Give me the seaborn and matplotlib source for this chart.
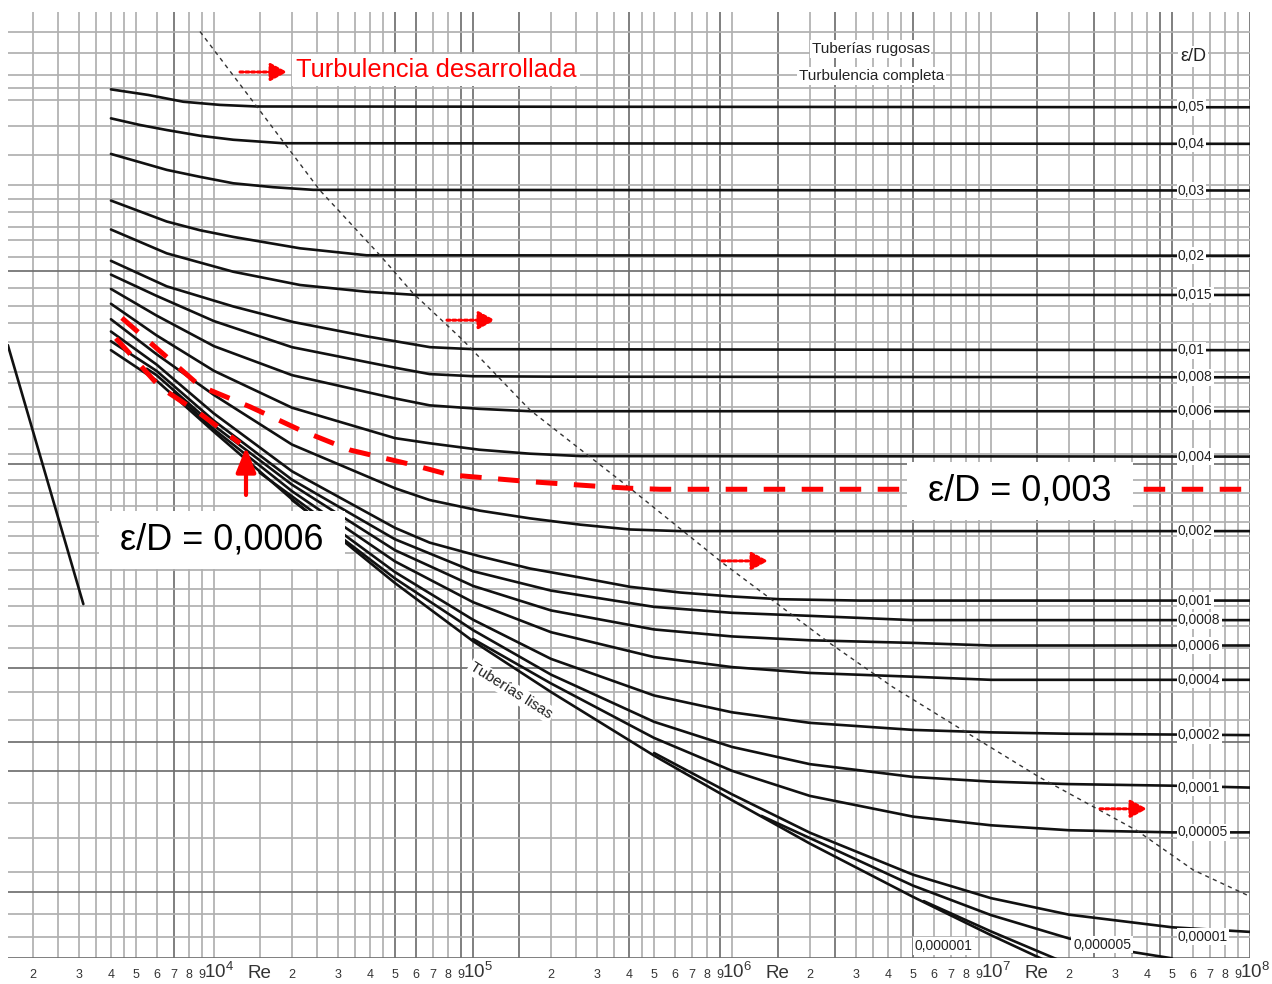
import matplotlib
matplotlib.use("Agg")
import matplotlib.pyplot as plt
from matplotlib.ticker import NullLocator
from matplotlib.transforms import ScaledTranslation
import pandas as pd
import seaborn as sns

# ---------------------------------------------------------------------------
# Moody chart: Darcy friction factor f against Reynolds number Re
# ---------------------------------------------------------------------------
re_r0_05 = [4000, 5580, 7610, 10550, 14620, 1e8]
f_r0_05 = [0.0750, 0.0739, 0.0726, 0.0720, 0.0717, 0.07155]

re_r0_04 = [4000, 5180, 6570, 8830, 11870, 18520, 1e8]
f_r0_04 = [0.0695, 0.0683, 0.0674, 0.0664, 0.0657, 0.0651, 0.0650]

re_r0_03 = [4000, 6570, 8830, 11870, 16940, 24170, 1e8]
f_r0_03 = [0.0633, 0.0607, 0.0596, 0.0586, 0.0580, 0.0576, 0.0575]

re_r0_02 = [4000, 6570, 8830, 11870, 21480, 38860, 1e8]
f_r0_02 = [0.0560, 0.0530, 0.0518, 0.0509, 0.0494, 0.0485, 0.04845]

re_r0_015 = [4000, 6570, 11870, 21480, 38860, 60620, 1e8]
f_r0_015 = [0.0519, 0.04875, 0.04645, 0.04486, 0.04407, 0.0437, 0.0437]

re_r0_01 = [4000, 6570, 11870, 20240, 38860, 68230, 1e5, 1e8]
f_r0_01 = [0.0478, 0.0447, 0.0424, 0.0407, 0.0392, 0.0381, 0.0379, 0.0378]

re_r0_008 = [4000, 6000, 1e4, 2e4, 5e4, 6.8e4, 1e5, 2e5, 1e8]
f_r0_008 = [0.0461, 0.0436, 0.0408, 0.0381, 0.0361, 0.0355, 0.0353, 0.03526, 0.0352]

re_r0_006 = [4000, 6000, 1e4, 2e4, 5e4, 6.8e4, 1.06e5, 1.66e5, 1e8]
f_r0_006 = [0.0444, 0.0414, 0.0382, 0.0354, 0.0333, 0.0327, 0.0324, 0.0322, 0.0322]

re_r0_004 = [4000, 6000, 1e4, 2e4, 5e4, 6.8e4, 1.06e5, 1.66e5, 2.6e5, 1e8]
f_r0_004 = [0.0427, 0.0393, 0.0358, 0.0325, 0.0300, 0.0296, 0.0291, 0.0288, 0.02862, 0.02858]

re_r0_002 = [4000, 6000, 1e4, 2e4, 5e4, 6.8e4, 1.06e5, 1.66e5, 2.6e5, 4.04e5, 6.3e5, 1e8]
f_r0_002 = [0.0410, 0.0374, 0.0336, 0.0295, 0.0263, 0.0255, 0.0248, 0.0243, 0.0239, 0.0236, 0.0235, 0.0235]

re_r0_001 = [4000, 6000, 1e4, 2e4, 5e4, 6.8e4, 1.06e5, 1.66e5, 2.6e5, 4.04e5, 6.3e5, 9.8e5, 1.53e6, 3.12e6, 1e8]
f_r0_001 = [0.0397, 0.0364, 0.0320, 0.0275, 0.0237, 0.0228, 0.0220, 0.0213, 0.0208, 0.0203, 0.0200, 0.0198, 0.01965, 0.01958, 0.01958]

re_r0_0008 = [4000, 6000, 1e4, 2e4, 5e4, 1e5, 2e5, 5e5, 1e6, 2e6, 5e6, 1e8]
f_r0_0008 = [0.0387, 0.0358, 0.0314, 0.0269, 0.0230, 0.02115, 0.0201, 0.01926, 0.01896, 0.01881, 0.0186, 0.0186]

re_r0_0006 = [5500, 6000, 1e4, 2e4, 5e4, 1e5, 2e5, 5e5, 1e6, 2e6, 5e6, 1e7, 1e8]
f_r0_0006 = [0.0360, 0.0354, 0.0310, 0.02655, 0.02235, 0.02035, 0.01908, 0.01815, 0.01782, 0.01764, 0.01752, 0.0174, 0.0174]

re_r0_0004 = [7000, 1e4, 2e4, 5e4, 1e5, 2e5, 5e5, 1e6, 2e6, 5e6, 1e7, 1e8]
f_r0_0004 = [0.0338, 0.0307, 0.02610, 0.02170, 0.01950, 0.01802, 0.01688, 0.01644, 0.01619, 0.01603, 0.0159, 0.0159]

re_r0_0002 = [1.5e4, 2e4, 5e4, 1e5, 2e5, 5e5, 1e6, 2e6, 5e6, 1e7, 2e7, 1e8]
f_r0_0002 = [0.0274, 0.02575, 0.02110, 0.01862, 0.01680, 0.01526, 0.0146, 0.0142, 0.01394, 0.01385, 0.0138, 0.01375]

re_r0_0001 = [2e4, 5e4, 1e5, 2e5, 5e5, 1e6, 2e6, 5e6, 1e7, 2e7, 5e7, 1e8]
f_r0_0001 = [0.0255, 0.02075, 0.01812, 0.01612, 0.01424, 0.01333, 0.01274, 0.01232, 0.01217, 0.01209, 0.01204, 0.01198]

re_r0_00005 = [1e5, 2e5, 5e5, 1e6, 2e6, 5e6, 1e7, 2e7, 5e7, 1e8]
f_r0_00005 = [0.0177, 0.01575, 0.01365, 0.01252, 0.01172, 0.0111, 0.01085, 0.01071, 0.01065, 0.01065]

re_r0_00001 = [5e5, 1e6, 2e6, 5e6, 1e7, 2e7, 5e7, 1e8]
f_r0_00001 = [0.01312, 0.01177, 0.01064, 0.00953, 0.00896, 0.00858, 0.0083, 0.0082]

re_r0_000005 = [1.3e6, 2e6, 5e6, 1e7, 2e7, 3.5e7, 5e7]
f_r0_000005 = [0.01112, 0.01049, 0.00926, 0.00857, 0.00806, 0.00778, 0.00765]

re_r0_000001 = [5.5e6, 1e7, 2e7]
f_r0_000001 = [0.00889, 0.00821, 0.00753]

re_smooth = [4000, 6000, 1e4, 2e4, 5e4, 1e5, 2e5, 5e5, 1e6, 2e6, 5e6, 1e7, 2e7]
f_smooth = [0.0378, 0.0349, 0.0305, 0.02555, 0.0205, 0.0176, 0.0154, 0.01303, 0.01159, 0.01034, 0.00899, 0.00813, 0.00739]

# laminar flow line
re_laminar = [1600, 3130]
f_laminar = [0.0383, 0.0194]

# limit of complete turbulence (rough pipes)
re_limit = [8830, 14620, 25670, 43750, 58660, 91500, 1.66e5, 4.04e5, 9.23e5,
            2.39e6, 4.18e6, 8.52e6, 1.546e7, 3.66e7, 6.03e7, 1e8]
f_limit = [0.0873, 0.0717, 0.0575, 0.0485, 0.0439, 0.0388, 0.0323, 0.0263, 0.0216,
           0.0175, 0.0156, 0.0137, 0.0123, 0.0107, 0.00965, 0.0090]

# highlighted curves (red dashed)
re_hl_003 = [4410, 8830, 13770, 21480, 33500, 58660, 81500, 1.163e5, 1.66e5, 3.18e5, 4.04e5, 5.27e5, 1e8]
f_hl_003 = [0.04114, 0.0344, 0.03258, 0.03065, 0.02908, 0.02796, 0.02724, 0.0270, 0.02676, 0.02641, 0.0263, 0.02623, 0.02623]
re_hl_0006 = [4180, 6190, 8830, 12600]
f_hl_0006 = [0.0390, 0.0343, 0.0320, 0.0296]

# right-hand relative roughness labels and the friction factor of each line
rough_labels = ["0,05", "0,04", "0,03", "0,02", "0,015", "0,01", "0,008", "0,006",
                "0,004", "0,002", "0,001", "0,0008", "0,0006", "0,0004", "0,0002",
                "0,0001", "0,00005", "0,00001"]
rough_label_f = [0.07155, 0.0650, 0.0575, 0.04845, 0.0437, 0.0378, 0.0352, 0.0322,
                 0.02858, 0.0235, 0.01958, 0.0186, 0.0174, 0.0159, 0.01375,
                 0.01198, 0.01065, 0.0081]

# horizontal grid (friction factor values) of the chart paper
hgrid_f = [0.0871, 0.0826, 0.0779, 0.0752, 0.0729, 0.0681, 0.0631, 0.0583, 0.0563,
           0.0544, 0.0523, 0.0505, 0.0483, 0.0465, 0.0445, 0.0424, 0.0406, 0.0386,
           0.0357, 0.0347, 0.0326, 0.0307, 0.0288, 0.0280, 0.0269, 0.0260, 0.0251,
           0.0241, 0.0232, 0.0222, 0.0212, 0.0202, 0.0193, 0.0183, 0.0173, 0.0164,
           0.0154, 0.0143, 0.0135, 0.0125, 0.0115, 0.0105, 0.0096, 0.0091, 0.0086,
           0.0081, 0.00766]
hgrid_dark = [0.0465, 0.0280, 0.0164, 0.0135, 0.0125, 0.0091, 0.00766]

# vertical grid: multipliers within each decade
vgrid_mult = [1, 1.5, 2, 2.5, 3, 3.5, 4, 4.5, 5, 6, 7, 8, 9]
vgrid_dark = [7e3, 5e4, 6e4, 9e4, 1e5, 1.5e5, 4e5, 9e5, 1.5e6, 2.5e6, 5e6,
              1.5e7, 2.5e7, 4.5e7, 5e7, 1e8]

curves = {
    "0.05": (re_r0_05, f_r0_05), "0.04": (re_r0_04, f_r0_04),
    "0.03": (re_r0_03, f_r0_03), "0.02": (re_r0_02, f_r0_02),
    "0.015": (re_r0_015, f_r0_015), "0.01": (re_r0_01, f_r0_01),
    "0.008": (re_r0_008, f_r0_008), "0.006": (re_r0_006, f_r0_006),
    "0.004": (re_r0_004, f_r0_004), "0.002": (re_r0_002, f_r0_002),
    "0.001": (re_r0_001, f_r0_001), "0.0008": (re_r0_0008, f_r0_0008),
    "0.0006": (re_r0_0006, f_r0_0006), "0.0004": (re_r0_0004, f_r0_0004),
    "0.0002": (re_r0_0002, f_r0_0002), "0.0001": (re_r0_0001, f_r0_0001),
    "0.00005": (re_r0_00005, f_r0_00005), "0.00001": (re_r0_00001, f_r0_00001),
    "0.000005": (re_r0_000005, f_r0_000005), "0.000001": (re_r0_000001, f_r0_000001),
    "smooth": (re_smooth, f_smooth), "laminar": (re_laminar, f_laminar),
}
rows = []
for name, (res, fs) in curves.items():
    for r, f in zip(res, fs):
        rows.append({"Re": r, "f": f, "curve": name})
df = pd.DataFrame(rows)

# ---------------------------------------------------------------------------
sns.set_theme(style="white")
plt.rcParams["font.family"] = ["Liberation Sans", "DejaVu Sans"]
plt.rcParams["mathtext.fontset"] = "custom"
plt.rcParams["mathtext.rm"] = "Liberation Sans"
plt.rcParams["mathtext.default"] = "regular"

fig = plt.figure(figsize=(12.72, 9.84), dpi=100)
fig.patch.set_facecolor("white")
ax = fig.add_axes([0.0063, 0.0261, 0.9764, 0.9617])
ax.set_xscale("log")
ax.set_yscale("log")
X_MIN, X_MAX = 1602, 1e8
Y_MIN, Y_MAX = 0.00765, 0.0919
ax.set_xlim(X_MIN, X_MAX)
ax.set_ylim(Y_MIN, Y_MAX)
for s in ax.spines.values():
    s.set_visible(False)

LIGHT, DARK = "#b0b0b0", "#707070"
# chart paper grid
for k in range(3, 8):
    for m in vgrid_mult:
        v = m * 10 ** k
        if X_MIN < v <= X_MAX:
            dark = any(abs(v - d) / d < 1e-6 for d in vgrid_dark)
            ax.axvline(v, color=DARK if dark else LIGHT, lw=1.25, zorder=1)
ax.axvline(X_MAX, color=DARK, lw=1.25, zorder=1)
for h in hgrid_f:
    ax.axhline(h, color=DARK if h in hgrid_dark else LIGHT, lw=1.25, zorder=1)

# friction factor curves
sns.lineplot(data=df, x="Re", y="f", units="curve", estimator=None, sort=False,
             color="#111111", lw=1.9, ax=ax, legend=False, zorder=3)
ax.set_xlabel("")
ax.set_ylabel("")

# boundary of complete turbulence
ax.plot(re_limit, f_limit, color="#333333", lw=1.0, dashes=(3, 3), zorder=3)

# highlighted curves
ax.plot(re_hl_003, f_hl_003, color="#ff0000", lw=3.6, dashes=(4.3, 3.3),
        dash_capstyle="butt", zorder=4)
ax.plot(re_hl_0006, f_hl_0006, color="#ff0000", lw=3.6, dashes=(4.3, 3.3),
        dash_capstyle="butt", zorder=4)

# dotted red arrows marking the complete-turbulence zone
arrows = [((12600, 0.0785), (19140, 0.0785)),
          ((79340, 0.0409), (121600, 0.0409)),
          ((9.15e5, 0.02173), (1.377e6, 0.02173)),
          ((2.635e7, 0.01133), (4.0e7, 0.01133))]
for start, end in arrows:
    ax.annotate("", xy=end, xytext=start, zorder=6,
                arrowprops=dict(arrowstyle="-|>,head_length=0.55,head_width=0.3",
                                color="#ff0000", lw=2.2, linestyle=(0, (1, 0.9)),
                                shrinkA=0, shrinkB=0, mutation_scale=18))

# solid red arrow pointing to the 0,0006 curve
ax.annotate("", xy=(13290, 0.0293), xytext=(13290, 0.02584), zorder=6,
            arrowprops=dict(arrowstyle="-|>,head_length=0.75,head_width=0.3",
                            color="#ff0000", lw=3, shrinkA=0, shrinkB=0,
                            mutation_scale=20))

white_box = dict(boxstyle="square,pad=0.12", fc="white", ec="none")

ax.text(71940, 0.07888, "Turbulencia desarrollada", color="#ff0000",
        fontsize=18.4, ha="center", va="center", zorder=7,
        bbox=dict(boxstyle="square,pad=0.15", fc="white", ec="none"))
ax.text(10740, 0.02296, " ε/D = 0,0006 ", color="black", fontsize=26,
        ha="center", va="center", zorder=7,
        bbox=dict(boxstyle="square,pad=0.32", fc="white", ec="none"))
ax.text(1.294e7, 0.02611, " ε/D = 0,003 ", color="black", fontsize=26,
        ha="center", va="center", zorder=7,
        bbox=dict(boxstyle="square,pad=0.32", fc="white", ec="none"))

ax.text(3.43e6, 0.0834, "Tuberías rugosas", color="#222222", fontsize=11,
        ha="center", va="center", zorder=7, bbox=white_box)
ax.text(3.47e6, 0.07766, "Turbulencia completa", color="#222222", fontsize=11,
        ha="center", va="center", zorder=7, bbox=white_box)
ax.text(1.402e5, 0.01545, "Tuberías lisas", color="#222222", fontsize=11,
        ha="center", va="center", rotation=-32, rotation_mode="anchor",
        zorder=7, bbox=white_box)

# relative roughness scale on the right
ax.text(6.03e7, 0.0817, "ε/D", color="#222222", fontsize=13, ha="center",
        va="center", zorder=7, bbox=white_box)
for lab, fv in zip(rough_labels, rough_label_f):
    ax.text(5.27e7, fv, lab, color="#222222", fontsize=10, ha="left",
            va="center", zorder=7, bbox=dict(boxstyle="square,pad=0.1",
                                             fc="white", ec="none"))
ax.text(6.58e6, 0.0079, "0,000001", color="#222222", fontsize=10, ha="center",
        va="center", zorder=7, bbox=white_box)
ax.text(2.683e7, 0.00793, "0,000005", color="#222222", fontsize=10, ha="center",
        va="center", zorder=7, bbox=white_box)

# Reynolds-number scale written under the chart
ax.set_xticks([])
ax.set_yticks([])
ax.xaxis.set_minor_locator(NullLocator())
ax.yaxis.set_minor_locator(NullLocator())
xax = ax.get_xaxis_transform()
BASE = -0.0208
for k in range(3, 8):
    for m in range(2, 10):
        ax.text(m * 10 ** k, BASE, str(m), transform=xax, ha="center",
                va="baseline", fontsize=9, color="#333333", clip_on=False)
dec_tr = xax + ScaledTranslation(-0.10, 0, fig.dpi_scale_trans)
for k in range(4, 9):
    ax.text(10 ** k, BASE, r"$10^{%d}$" % k, transform=dec_tr, ha="left",
            va="baseline", fontsize=13.5, color="#333333", clip_on=False)
for k in (4, 6, 7):
    ax.text(1.5 * 10 ** k, BASE, "Re", transform=xax, ha="center",
            va="baseline", fontsize=13.5, color="#333333", clip_on=False)

fig.savefig("out.png", dpi=100, facecolor="white")
